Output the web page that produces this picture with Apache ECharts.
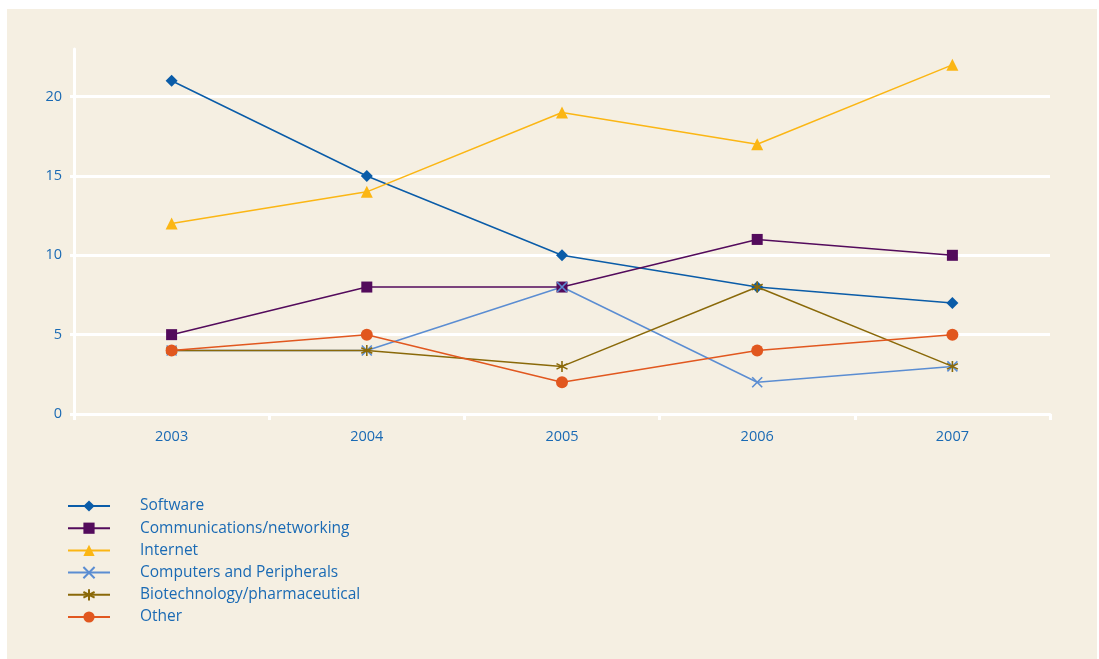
<!DOCTYPE html>
<html>
<head>
<meta charset="utf-8">
<style>
 html, body{
 	margin: 0;
 	padding: 0;
 	background: #ffffff;
 }
 #chart{
 	position: absolute;
 	left: 7px;
 	top: 9px;
 	width: 1090px;
 	height: 650px;
 	background: #f5efe2;
 }
</style>
</head>
<body>
<div id="chart"></div>
<script src="https://cdn.jsdelivr.net/npm/echarts@6/dist/echarts.min.js"></script>
<script type="text/javascript">
	var years = ['2003', '2004', '2005', '2006', '2007'];
	var software = [21, 15, 10, 8, 7];
	var communications = [5, 8, 8, 11, 10];
	var internet = [12, 14, 19, 17, 22];
	var computers = [4, 4, 8, 2, 3];
	var biotech = [4, 4, 3, 8, 3];
	var other = [4, 5, 2, 4, 5];

	var textBlue = '#1a6ab4';
	var crossPath = 'path://M0,0L10,10M10,0L0,10';
	var starPath = 'path://M5,0L5,10M0.7,2.5L9.3,7.5M0.7,7.5L9.3,2.5';

	// one line series
	function line(name, data, color, symbol, size, stroke) {
		var s = {
			name: name,
			type: 'line',
			data: data,
			symbol: symbol,
			symbolSize: size,
			showAllSymbol: true,
			lineStyle: { color: color, width: 1.5 },
			itemStyle: { color: color },
			emphasis: { disabled: true },
			z: 2
		};
		if (stroke) {
			s.itemStyle = { color: 'rgba(0,0,0,0)', borderColor: color, borderWidth: 1.6 };
		}
		return s;
	}

	var options = {
		animation: false,
		textStyle: { fontFamily: 'Open Sans' },
		grid: {
			left: 67,
			right: 47,
			top: 40,
			bottom: 245
		},
		legend: {
			orient: 'vertical',
			left: 55,
			top: 484,
			itemWidth: 42,
			itemHeight: 14,
			itemGap: 6.2,
			textStyle: {
				color: textBlue,
				fontSize: 15.5,
				fontFamily: 'Open Sans',
				padding: [0, 0, 0, 25],
				lineHeight: 14
			}
		},
		xAxis: {
			type: 'category',
			data: years,
			boundaryGap: true,
			axisLine: { lineStyle: { color: '#ffffff', width: 3 } },
			axisTick: { show: true, length: 6, lineStyle: { color: '#ffffff', width: 3 } },
			axisLabel: { color: textBlue, fontSize: 14.5, margin: 15 }
		},
		yAxis: {
			type: 'value',
			min: 0,
			max: 23,
			interval: 5,
			axisLine: { show: true, lineStyle: { color: '#ffffff', width: 3 } },
			axisTick: { show: true, length: 4, lineStyle: { color: '#ffffff', width: 3 } },
			axisLabel: {
				color: textBlue,
				fontSize: 14.5,
				margin: 12,
				showMaxLabel: false,
				formatter: function (v) { return v % 5 === 0 ? v : ''; }
			},
			splitLine: {
				lineStyle: {
					color: ['#ffffff', '#ffffff', '#ffffff', '#ffffff', '#ffffff', 'rgba(0,0,0,0)'],
					width: 3
				}
			}
		},
		series: [
			line('Software', software, '#0a5ca8', 'diamond', 12),
			line('Communications/networking', communications, '#530b5c', 'rect', 11),
			line('Internet', internet, '#fbb614', 'triangle', 12),
			line('Computers and Peripherals', computers, '#5b8dd2', crossPath, 10, true),
			line('Biotechnology/pharmaceutical', biotech, '#8a6909', starPath, 11, true),
			line('Other', other, '#e1571f', 'circle', 12)
		]
	};

	var myChart = echarts.init(document.getElementById('chart'));
	myChart.setOption(options);
</script>
</body>
</html>
